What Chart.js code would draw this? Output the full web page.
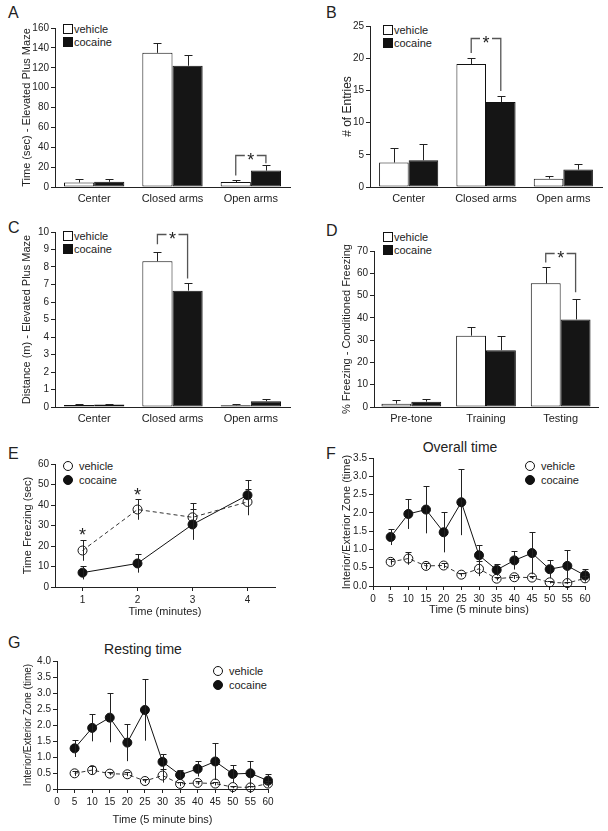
<!DOCTYPE html>
<html>
<head>
<meta charset="utf-8">
<script src="https://cdn.jsdelivr.net/npm/chart.js@4.4.0/dist/chart.umd.min.js"></script>
<style>
  body { margin: 0; width: 608px; height: 831px; position: relative; overflow: hidden; background: #fff;
         font-family: "Liberation Sans", Arial, Helvetica, sans-serif; color: #222; }
  canvas { position: absolute; }
  .letter { position: absolute; font-size: 16px; line-height: 16px; }
  .leg { position: absolute; font-size: 11px; line-height: 13px; white-space: nowrap; }
  .sq { display: inline-block; width: 8px; height: 8px; border: 1px solid #111; margin-right: 1px; vertical-align: -1px; }
  .dot { display: inline-block; width: 8px; height: 8px; border: 1px solid #111; border-radius: 50%; margin-right: 6px; vertical-align: -1px; }
  .fill { background: #111; }
  .ptitle { position: absolute; font-size: 14px; line-height: 16px; white-space: nowrap; transform: translateX(-50%); }
</style>
</head>
<body>

<div class="letter" style="left:8px;top:5px">A</div>
<div class="letter" style="left:326px;top:5px">B</div>
<div class="letter" style="left:8px;top:220px">C</div>
<div class="letter" style="left:326px;top:223px">D</div>
<div class="letter" style="left:8px;top:446px">E</div>
<div class="letter" style="left:326px;top:446px">F</div>
<div class="letter" style="left:8px;top:635px">G</div>

<div class="leg" style="left:63px;top:23px"><span class="sq"></span>vehicle<br><span class="sq fill"></span>cocaine</div>
<div class="leg" style="left:383px;top:24px"><span class="sq"></span>vehicle<br><span class="sq fill"></span>cocaine</div>
<div class="leg" style="left:63px;top:230px"><span class="sq"></span>vehicle<br><span class="sq fill"></span>cocaine</div>
<div class="leg" style="left:383px;top:231px"><span class="sq"></span>vehicle<br><span class="sq fill"></span>cocaine</div>
<div class="leg" style="left:63px;top:459px;line-height:14px"><span class="dot"></span>vehicle<br><span class="dot fill"></span>cocaine</div>
<div class="leg" style="left:525px;top:459px;line-height:14px"><span class="dot"></span>vehicle<br><span class="dot fill"></span>cocaine</div>
<div class="leg" style="left:213px;top:664px;line-height:14px"><span class="dot"></span>vehicle<br><span class="dot fill"></span>cocaine</div>

<div class="ptitle" style="left:460px;top:439px">Overall time</div>
<div class="ptitle" style="left:143px;top:641px">Resting time</div>

<script>
// elevated plus maze (A-C)
var epmCats = ['Center', 'Closed arms', 'Open arms'];
var timeVeh = [4.5, 135, 5];
var timeVehErr = [3.2, 9.5, 2.5];
var timeCoc = [5.2, 122, 16.5];
var timeCocErr = [2.8, 10.5, 6];
var entVeh = [3.8, 19.1, 1.3];
var entVehErr = [2.2, 1.0, 0.4];
var entCoc = [4.15, 13.2, 2.7];
var entCocErr = [2.55, 1.0, 0.9];
var distVeh = [0.12, 8.33, 0.1];
var distVehErr = [0.06, 0.5, 0.05];
var distCoc = [0.15, 6.65, 0.33];
var distCocErr = [0.05, 0.46, 0.1];

// fear conditioning (D)
var fearCats = ['Pre-tone', 'Training', 'Testing'];
var fearVeh = [1.5, 32, 55.5];
var fearVehErr = [1.8, 4, 7.5];
var fearCoc = [2.4, 25.5, 39.3];
var fearCocErr = [1.3, 6.2, 9];

// freezing over time (E)
var minutes = [1, 2, 3, 4];
var frzVeh = [17.8, 37.8, 34, 41.5];
var frzVehErr = [5, 5, 7, 6.5];
var frzCoc = [7, 11.5, 30.5, 44.8];
var frzCocErr = [3.3, 4.5, 7.5, 7.5];

// zone ratio per 5 min bin (F, G)
var bins = [5, 10, 15, 20, 25, 30, 35, 40, 45, 50, 55, 60];
var binTicks = [0, 5, 10, 15, 20, 25, 30, 35, 40, 45, 50, 55, 60];
var ovVeh = [0.66, 0.75, 0.55, 0.56, 0.31, 0.47, 0.20, 0.24, 0.23, 0.10, 0.08, 0.21];
var ovVehErr = [0.08, 0.17, 0.09, 0.07, 0.05, 0.2, 0.05, 0.05, 0.04, 0.03, 0.03, 0.07];
var ovCoc = [1.34, 1.97, 2.09, 1.47, 2.29, 0.84, 0.44, 0.70, 0.90, 0.46, 0.55, 0.29];
var ovCocErr = [0.22, 0.41, 0.65, 0.55, 0.9, 0.27, 0.16, 0.25, 0.58, 0.24, 0.43, 0.17];
var rsVeh = [0.49, 0.59, 0.48, 0.46, 0.25, 0.42, 0.16, 0.19, 0.17, 0.06, 0.05, 0.17];
var rsVehErr = [0.08, 0.12, 0.05, 0.06, 0.06, 0.22, 0.07, 0.06, 0.06, 0.04, 0.03, 0.07];
var rsCoc = [1.27, 1.91, 2.23, 1.45, 2.47, 0.85, 0.44, 0.63, 0.86, 0.47, 0.49, 0.26];
var rsCocErr = [0.27, 0.42, 0.77, 0.58, 0.96, 0.24, 0.16, 0.24, 0.58, 0.28, 0.39, 0.2];

// significance marks: [category, vehicle end, bracket top, cocaine end]
var sigA = [2, 11.5, 32, 24];
var sigB = [1, 20.8, 23.2, 14.9];
var sigC = [1, 9.3, 9.9, 7.35];
var sigD = [2, 64.8, 69, 51.5];
// stars over points in E: [x, y]
var starsE = [[1, 27.5], [2, 47]];

Chart.defaults.font.family = "'Liberation Sans', Arial, Helvetica, sans-serif";
Chart.defaults.color = '#222';
Chart.defaults.animation = false;

function place(x, y, w, h) {
    var c = document.createElement('canvas');
    c.width = w;
    c.height = h;
    c.style.left = x + 'px';
    c.style.top = y + 'px';
    document.body.appendChild(c);
    return c;
}

function star(ctx, x, y) {
    ctx.fillStyle = '#222';
    ctx.font = "18px 'Liberation Sans', Arial, sans-serif";
    ctx.textAlign = 'center';
    ctx.textBaseline = 'alphabetic';
    ctx.fillText('*', x, y + 10);
}

// error bars, brackets and stars
function marks(both, sig, stars) {
    return {
        id: 'marks',
        afterDatasetsDraw: function (chart) {
            var ctx = chart.ctx, ys = chart.scales.y, xs = chart.scales.x;
            ctx.save();
            ctx.strokeStyle = '#222';
            ctx.lineWidth = 1;
            chart.data.datasets.forEach(function (ds, di) {
                var meta = chart.getDatasetMeta(di);
                meta.data.forEach(function (el, i) {
                    var v = both ? ds.data[i].y : ds.data[i];
                    var e = ds.errs[i];
                    var top = Math.round(ys.getPixelForValue(v + e)) + 0.5;
                    var bot = both ? ys.getPixelForValue(v - e) : el.y;
                    var x = Math.round(el.x) + 0.5;
                    var cap = both ? 3 : 4;
                    ctx.beginPath();
                    ctx.moveTo(x, bot);
                    ctx.lineTo(x, top);
                    ctx.moveTo(x - cap, top);
                    ctx.lineTo(x + cap, top);
                    ctx.stroke();
                });
            });
            if (sig) {
                var x1 = chart.getDatasetMeta(0).data[sig[0]].x;
                var x2 = chart.getDatasetMeta(1).data[sig[0]].x;
                var yt = Math.round(ys.getPixelForValue(sig[2])) + 0.5;
                var mid = (x1 + x2) / 2;
                ctx.strokeStyle = '#555';
                ctx.lineWidth = 1.3;
                ctx.beginPath();
                ctx.moveTo(x1, ys.getPixelForValue(sig[1]));
                ctx.lineTo(x1, yt);
                ctx.lineTo(mid - 6, yt);
                ctx.moveTo(mid + 6, yt);
                ctx.lineTo(x2, yt);
                ctx.lineTo(x2, ys.getPixelForValue(sig[3]));
                ctx.stroke();
                star(ctx, mid, yt);
            }
            if (stars) {
                stars.forEach(function (s) {
                    star(ctx, xs.getPixelForValue(s[0]), ys.getPixelForValue(s[1]));
                });
            }
            ctx.restore();
        }
    };
}

function yAxis(max, step, title, size, w, fmt) {
    var ticks = { stepSize: step, font: { size: 10 }, padding: 2 };
    if (fmt) ticks.callback = fmt;
    return {
        min: 0, max: max,
        ticks: ticks,
        grid: { display: true, drawOnChartArea: false, drawTicks: true, tickLength: 4, color: '#222' },
        border: { display: true, color: '#222', width: 1 },
        title: { display: true, text: title, font: { size: size }, padding: 0, color: '#222' },
        afterFit: function (s) { s.width = w; }
    };
}

function barChart(box, pad, yw, xh, cats, veh, vehErr, coc, cocErr, yMax, yStep, yTitle, tSize, pct, sig) {
    var c = place(box[0], box[1], box[2], box[3]);
    return new Chart(c, {
        type: 'bar',
        data: {
            labels: cats,
            datasets: [
                { label: 'vehicle', data: veh, errs: vehErr, backgroundColor: '#fff', borderColor: '#111', borderWidth: 1, borderSkipped: false },
                { label: 'cocaine', data: coc, errs: cocErr, backgroundColor: '#151515', borderColor: '#111', borderWidth: 1, borderSkipped: false }
            ]
        },
        options: {
            responsive: false,
            devicePixelRatio: 1,
            barPercentage: 1,
            categoryPercentage: pct,
            layout: { padding: pad },
            plugins: { legend: { display: false }, tooltip: { enabled: false } },
            scales: {
                x: {
                    grid: { display: false, drawTicks: false },
                    border: { display: true, color: '#222', width: 1 },
                    ticks: { font: { size: 11 }, padding: 5, maxRotation: 0, autoSkip: false },
                    afterFit: function (s) { s.height = xh; }
                },
                y: yAxis(yMax, yStep, yTitle, tSize, yw)
            }
        },
        plugins: [marks(false, sig, null)]
    });
}

function pts(xsArr, ysArr) {
    return xsArr.map(function (x, i) { return { x: x, y: ysArr[i] }; });
}

function lineChart(box, pad, yw, xh, xv, veh, vehErr, coc, cocErr, xMin, xMax, xTicks, xTitle, yMax, yStep, yTitle, fmt, stars) {
    var c = place(box[0], box[1], box[2], box[3]);
    return new Chart(c, {
        type: 'line',
        data: {
            datasets: [
                { label: 'vehicle', data: pts(xv, veh), errs: vehErr, borderColor: '#333', borderWidth: 1, borderDash: [4, 3],
                  pointRadius: 4.5, pointBorderWidth: 1, pointBorderColor: '#111', pointBackgroundColor: 'rgba(255,255,255,0)', tension: 0, clip: false },
                { label: 'cocaine', data: pts(xv, coc), errs: cocErr, borderColor: '#111', borderWidth: 1,
                  pointRadius: 4.5, pointBorderWidth: 1, pointBorderColor: '#111', pointBackgroundColor: '#111', tension: 0, clip: false }
            ]
        },
        options: {
            responsive: false,
            devicePixelRatio: 1,
            layout: { padding: pad },
            plugins: { legend: { display: false }, tooltip: { enabled: false } },
            scales: {
                x: {
                    type: 'linear', min: xMin, max: xMax,
                    ticks: { font: { size: 10 }, padding: 3, maxRotation: 0, autoSkip: false },
                    afterBuildTicks: function (s) {
                        s.ticks = xTicks.map(function (v) { return { value: v }; });
                    },
                    grid: { display: true, drawOnChartArea: false, drawTicks: true, tickLength: 4, color: '#222' },
                    border: { display: true, color: '#222', width: 1 },
                    title: { display: true, text: xTitle, font: { size: 11 }, padding: 0, color: '#222' },
                    afterFit: function (s) { s.height = xh; }
                },
                y: yAxis(yMax, yStep, yTitle, yw > 34 ? 10 : 11, yw, fmt)
            }
        },
        plugins: [marks(true, null, stars)]
    });
}

document.addEventListener('DOMContentLoaded', function () {
    barChart([0, 0, 300, 215], { left: 20, top: 28, right: 10, bottom: 0 }, 35, 28,
        epmCats, timeVeh, timeVehErr, timeCoc, timeCocErr, 160, 20, 'Time (sec) - Elevated Plus Maze', 11, 0.77, sigA);
    barChart([300, 0, 308, 215], { left: 40, top: 26, right: 6, bottom: 0 }, 30, 28,
        epmCats, entVeh, entVehErr, entCoc, entCocErr, 25, 5, '# of Entries', 12, 0.765, sigB);
    barChart([0, 205, 300, 225], { left: 20, top: 27, right: 10, bottom: 0 }, 35, 23,
        epmCats, distVeh, distVehErr, distCoc, distCocErr, 10, 1, 'Distance (m) - Elevated Plus Maze', 11, 0.77, sigC);
    barChart([300, 205, 308, 225], { left: 40, top: 46, right: 10, bottom: 0 }, 34, 23,
        fearCats, fearVeh, fearVehErr, fearCoc, fearCocErr, 70, 10, '% Freezing - Conditioned Freezing', 11, 0.8, sigD);

    lineChart([0, 440, 300, 179], { left: 21, top: 24, right: 25, bottom: 0 }, 34, 32,
        minutes, frzVeh, frzVehErr, frzCoc, frzCocErr, 0.5, 4.5, minutes, 'Time (minutes)', 60, 10, 'Time Freezing (sec)', null, starsE);
    lineChart([300, 430, 308, 187], { left: 40, top: 28, right: 23, bottom: 0 }, 33, 31,
        bins, ovVeh, ovVehErr, ovCoc, ovCocErr, 0, 60, binTicks, 'Time (5 minute bins)', 3.5, 0.5, 'Interior/Exterior Zone (time)',
        function (v) { return v.toFixed(1); }, null);
    lineChart([0, 635, 300, 192], { left: 22, top: 26, right: 32, bottom: 0 }, 35, 38,
        bins, rsVeh, rsVehErr, rsCoc, rsCocErr, 0, 60, binTicks, 'Time (5 minute bins)', 4, 0.5, 'Interior/Exterior Zone (time)',
        function (v) { return v === 0 ? '0' : v.toFixed(1); }, null);
});
</script>
</body>
</html>
